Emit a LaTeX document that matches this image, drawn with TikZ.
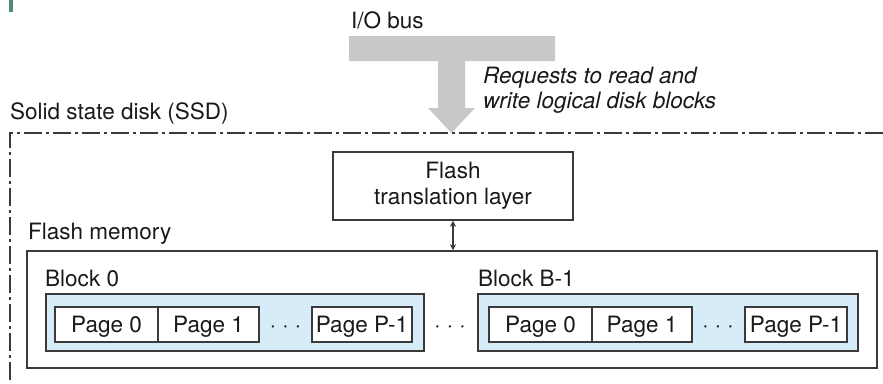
\documentclass[tikz,border=0pt]{standalone}
\usepackage{fontspec}
\setmainfont{TeX Gyre Heros}
\usetikzlibrary{arrows.meta}
\definecolor{linec}{HTML}{3A3A3A}
\definecolor{busgray}{HTML}{C8C8C8}
\definecolor{blockblue}{HTML}{D6ECF8}
\definecolor{markteal}{HTML}{4E8A7C}
\begin{document}
\begin{tikzpicture}[x=1pt,y=-1pt,
  every node/.style={font=\fontsize{22.5}{25}\selectfont, text=black!90},
  box/.style={draw=linec, line width=1.5pt, inner sep=0pt},
  pagebox/.style={box, fill=white, minimum height=35pt, text height=16pt, text depth=0pt},
  lbl/.style={inner sep=0pt, anchor=base west},
  dotsnode/.style={inner sep=0pt, text height=16pt, text depth=0pt},
  ssdline/.style={draw=linec, line width=1.5pt, dash pattern=on 18pt off 4pt on 3pt off 4pt}]
\useasboundingbox (0,0) rectangle (883,383);
% small mark at top left
\fill[markteal] (9,0) rectangle (13,12);
% I/O bus
\node[lbl] (bus) at (351,28) {I/O bus};
\fill[busgray] (349,36) -- (555,36) -- (555,61) -- (465,61) -- (465,108) -- (475,108)
  -- (451.5,133) -- (428,108) -- (438,108) -- (438,61) -- (349,61) -- cycle;
\node[inner sep=0pt, anchor=north west, align=left, font=\fontsize{22.5}{25}\selectfont\itshape] (req) at (483,67)
  {Requests to read and\\write logical disk blocks};
% SSD
\node[lbl] (ssd) at (10,119.5) {Solid state disk (SSD)};
\coordinate (ssdright) at (883,133);
\coordinate (ssdcorner) at (10,133);
\coordinate (ssdbottom) at (10,383);
\draw[ssdline] (ssdright) -- (ssdcorner) -- (ssdbottom);
% FTL
\node[box, minimum width=240pt, minimum height=68pt, align=center, font=\fontsize{22.5}{26}\selectfont] (ftl) at (453,186)
  {Flash\\translation layer};
% Flash memory
\node[lbl] (fmlbl) at (28,239) {Flash memory};
\node[box, minimum width=850pt, minimum height=117pt] (flash) at (452,309.5) {};
\draw[linec, line width=1.3pt, {Stealth[length=6pt,width=6pt]}-{Stealth[length=6pt,width=6pt]}]
  (ftl.south) -- (ftl.south |- flash.north);
% Block 0
\node[lbl] (b0lbl) at (45,286) {Block 0};
\node[box, fill=blockblue, minimum width=378pt, minimum height=57pt] (b0) at (235,322.5) {};
\node[pagebox, minimum width=103pt] (p00) at (106.5,324.5) {Page 0};
\node[pagebox, minimum width=101pt] (p01) at (208.5,324.5) {Page 1};
\node[dotsnode] (d0) at (285.5,324.5) {· · ·};
\node[pagebox, minimum width=100pt] (p0P) at (362,324.5) {Page P-1};
% middle dots
\node[dotsnode] (dm) at (450,324.5) {· · ·};
% Block B-1
\node[lbl] (b1lbl) at (478,286) {Block B-1};
\node[box, fill=blockblue, minimum width=380pt, minimum height=57pt] (b1) at (668,322.5) {};
\node[pagebox, minimum width=103pt] (p10) at (540.5,324.5) {Page 0};
\node[pagebox, minimum width=100pt] (p11) at (642,324.5) {Page 1};
\node[dotsnode] (d1) at (718,324.5) {· · ·};
\node[pagebox, minimum width=102pt] (p1P) at (796,324.5) {Page P-1};
\end{tikzpicture}
\end{document}
